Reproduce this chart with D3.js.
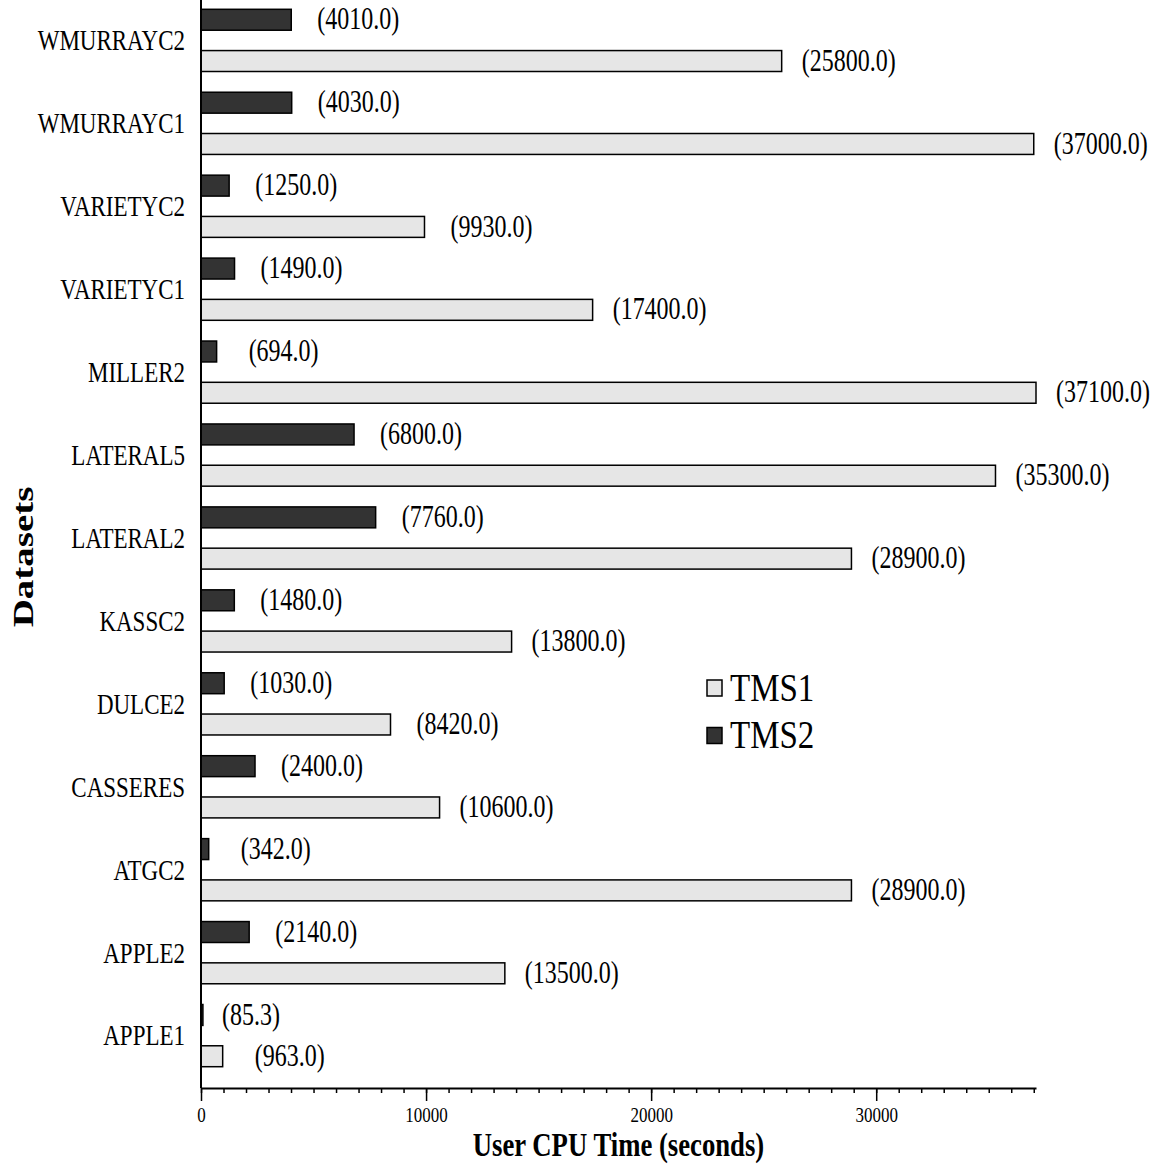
<!DOCTYPE html>
<html>
<head>
<meta charset="utf-8">
<script src="https://cdn.jsdelivr.net/npm/d3@7"></script>
<style>
  html, body { margin: 0; padding: 0; background: #fff; }
  svg { display: block; font-family: "Liberation Serif", "Times New Roman", serif; }
</style>
</head>
<body>
<svg id="chart" width="1154" height="1166"></svg>
<script>
// Datasets, listed top to bottom
const datasets = ["WMURRAYC2", "WMURRAYC1", "VARIETYC2", "VARIETYC1", "MILLER2",
  "LATERAL5", "LATERAL2", "KASSC2", "DULCE2", "CASSERES", "ATGC2", "APPLE2", "APPLE1"];
// User CPU time in seconds for each method
const tms1 = [25800, 37000, 9930, 17400, 37100, 35300, 28900, 13800, 8420, 10600, 28900, 13500, 963];
const tms2 = [4010, 4030, 1250, 1490, 694, 6800, 7760, 1480, 1030, 2400, 342, 2140, 85.3];
const seriesNames = ["TMS1", "TMS2"];
const majorTicks = [0, 10000, 20000, 30000];
const xMax = 37100;

const svg = d3.select("#chart");
const fills = { TMS1: "#e6e6e6", TMS2: "#333333" };

const x = d3.scaleLinear().domain([0, xMax]).range([201, 1036]);
const y = d3.scaleBand().domain(datasets).range([9.3, 1066.7]).paddingInner(0.25).paddingOuter(0);
// within a group the TMS2 bar sits above the TMS1 bar
const ySub = d3.scaleBand().domain(["TMS2", "TMS1"]).range([0, y.bandwidth()]).paddingInner(0.493);

const axisY = 1088;

const rows = [];
datasets.forEach((name, i) => {
  rows.push({ name, series: "TMS2", value: tms2[i] });
  rows.push({ name, series: "TMS1", value: tms1[i] });
});

// bars
svg.append("g").selectAll("rect").data(rows).join("rect")
  .attr("x", x(0))
  .attr("y", d => y(d.name) + ySub(d.series))
  .attr("width", d => x(d.value) - x(0))
  .attr("height", ySub.bandwidth())
  .attr("fill", d => fills[d.series])
  .attr("stroke", "#000")
  .attr("stroke-width", 1.5);

// value labels next to each bar
const fmt = v => "(" + v.toFixed(1) + ")";
svg.append("g").selectAll("text").data(rows).join("text")
  .attr("transform", d => {
    const tiny = d.value < 100;
    const tx = tiny ? x(d.value) + 19 : x(d.value) + 67;
    const ty = y(d.name) + ySub(d.series) + ySub.bandwidth() / 2 - 1;
    return `translate(${tx},${ty}) scale(1,1.3)`;
  })
  .attr("text-anchor", d => d.value < 100 ? "start" : "middle")
  .attr("dominant-baseline", "central")
  .attr("font-size", 24)
  .text(d => fmt(d.value));

// category labels
svg.append("g").selectAll("text").data(datasets).join("text")
  .attr("transform", d => `translate(185,${y(d) + y.bandwidth() / 2 + 0.5}) scale(1,1.25)`)
  .attr("text-anchor", "end")
  .attr("dominant-baseline", "central")
  .attr("font-size", 23)
  .text(d => d);

// vertical axis line
svg.append("line")
  .attr("x1", x(0)).attr("x2", x(0))
  .attr("y1", 0).attr("y2", axisY)
  .attr("stroke", "#000").attr("stroke-width", 2);

// minor ticks every 1000 s
const minor = svg.append("g").attr("transform", `translate(0,${axisY})`)
  .call(d3.axisBottom(x).tickValues(d3.range(0, 37001, 1000)).tickSize(5).tickSizeOuter(0).tickFormat(""));
minor.select(".domain").attr("stroke-width", 2);
minor.selectAll(".tick line").attr("stroke-width", 1.5);

// major ticks with labels
const major = svg.append("g").attr("transform", `translate(0,${axisY})`)
  .call(d3.axisBottom(x).tickValues(majorTicks).tickSize(13).tickSizeOuter(0).tickFormat(d3.format("d")));
major.select(".domain").remove();
major.selectAll(".tick line").attr("stroke-width", 1.5);
major.selectAll(".tick text")
  .attr("y", null).attr("dy", null)
  .attr("dominant-baseline", "central")
  .attr("transform", "translate(0,27) scale(1,1.2)")
  .attr("font-family", "Liberation Serif, serif")
  .attr("font-size", 17)
  .attr("fill", "#000");

// axis titles
svg.append("text")
  .attr("transform", `translate(${(x(0) + x(xMax)) / 2},1156) scale(1,1.25)`)
  .attr("text-anchor", "middle")
  .attr("font-size", 26.7)
  .attr("font-weight", "bold")
  .text("User CPU Time (seconds)");

svg.append("text")
  .attr("transform", "translate(33,557) rotate(-90) scale(1.3,1)")
  .attr("text-anchor", "middle")
  .attr("font-size", 30)
  .attr("font-weight", "bold")
  .text("Datasets");

// legend
const legend = svg.append("g").selectAll("g").data(seriesNames).join("g")
  .attr("transform", (d, i) => `translate(707,${688 + i * 47.5})`);
legend.append("rect")
  .attr("x", 0).attr("y", -8)
  .attr("width", 15).attr("height", 16)
  .attr("fill", d => fills[d])
  .attr("stroke", "#000").attr("stroke-width", 1.5);
legend.append("text")
  .attr("transform", "translate(23,-1) scale(1,1.22)")
  .attr("dominant-baseline", "central")
  .attr("font-size", 33)
  .text(d => d);
</script>
</body>
</html>
